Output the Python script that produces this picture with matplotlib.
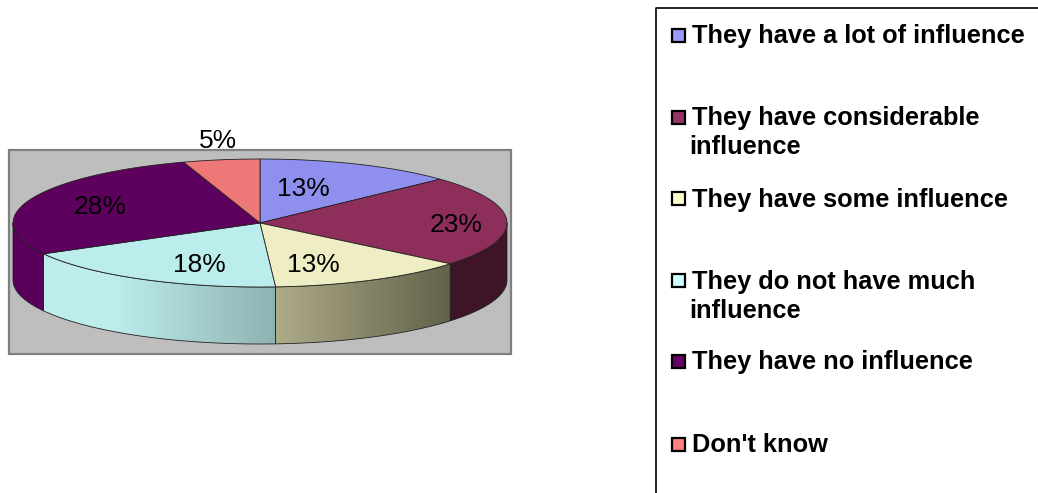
# influence pie chart, flat 3D look drawn by hand in pixel space

import numpy as np
import matplotlib
matplotlib.use("Agg")
import matplotlib.pyplot as plt
from matplotlib.colors import LinearSegmentedColormap
from matplotlib.patches import Polygon, Rectangle

# Data
categories = ["They have a lot of influence",
              "They have considerable\ninfluence",
              "They have some influence",
              "They do not have much\ninfluence",
              "They have no influence",
              "Don't know"]
values = [13, 23, 13, 18, 28, 5]

# Styles
top_colors = ["#8F8FEE", "#8E2E5A", "#EEEDC3", "#BBEDED", "#5E005E", "#EE7777"]
side_colors = ["#5F5FA0", "#3E1426", None, None, "#5A005A", "#A05050"]
side_gradients = [None, None, ("#AEAB88", "#62614A"), ("#BDEDED", "#8FB2B2"), None, None]
swatch_colors = ["#9999FF", "#993366", "#FFFFCC", "#CCFFFF", "#660066", "#FF8080"]
legend_y = [34, 116, 197, 279, 360, 443]
label_xy = [(303, 186), (456, 222), (313, 263), (199, 263), (100, 205), (218, 139)]

cx, cy, rx, ry, depth = 260, 223, 247, 64, 57

fig = plt.figure(figsize=(10.38, 4.93), dpi=100)
ax = fig.add_axes([0, 0, 1, 1])
ax.axis("off")

# plot area
ax.add_patch(Rectangle((9, 150), 502, 204, facecolor="#BEBEBE", edgecolor="#808080", linewidth=1.6, zorder=1))


def rim(a0, a1):
    # points on the top ellipse, angle clockwise from 12 o'clock
    t = np.radians(np.linspace(a0, a1, 80))
    return np.column_stack([cx + rx * np.sin(t), cy - ry * np.cos(t)])


edges = np.cumsum([0] + values) * 3.6

# side walls first
for i in range(len(values)):
    a0 = max(edges[i], 90)
    a1 = min(edges[i + 1], 270)
    if a1 <= a0:
        continue
    upper = rim(a0, a1)
    lower = upper[::-1] + [0, depth]
    pts = np.vstack([upper, lower])
    if side_gradients[i] is not None:
        x0, x1 = pts[:, 0].min(), pts[:, 0].max()
        c_left, c_right = side_gradients[i]
        if i == 3:
            cmap = LinearSegmentedColormap.from_list("side", [(0, c_left), (0.3, c_left), (1, c_right)])
        else:
            cmap = LinearSegmentedColormap.from_list("side", [c_left, c_right])
        im = ax.imshow(np.linspace(0, 1, 256).reshape(1, -1), cmap=cmap, aspect="auto",
                       extent=(x0, x1, cy + ry + depth, cy - ry), zorder=2)
        wall = Polygon(pts, closed=True, facecolor="none", edgecolor="#222222", linewidth=0.6, zorder=3)
        ax.add_patch(wall)
        im.set_clip_path(wall)
    else:
        ax.add_patch(Polygon(pts, closed=True, facecolor=side_colors[i], edgecolor="#222222", linewidth=0.6, zorder=3))

# top face
for i in range(len(values)):
    pts = np.vstack([[cx, cy], rim(edges[i], edges[i + 1])])
    ax.add_patch(Polygon(pts, closed=True, facecolor=top_colors[i], edgecolor="#222222", linewidth=0.6, zorder=4))

# percent labels
for v, (x, y) in zip(values, label_xy):
    ax.text(x, y, f"{v}%", ha="center", va="center_baseline", fontsize=19, family="Liberation Sans",
            color="black", zorder=5)

# legend box, runs off the right and bottom of the image
ax.plot([1038, 656, 656], [8, 8, 493], color="black", linewidth=1.2, zorder=1)
for cat, col, y in zip(categories, swatch_colors, legend_y):
    ax.add_patch(Rectangle((672, y - 5.5), 13, 13, facecolor=col, edgecolor="black", linewidth=1.6, zorder=3))
    lines = cat.split("\n")
    ax.text(692, y, lines[0], ha="left", va="center_baseline", fontsize=18.25, fontweight="bold",
            family="Liberation Sans", color="black")
    if len(lines) > 1:
        ax.text(689.5, y + 29, lines[1], ha="left", va="center_baseline", fontsize=18.25, fontweight="bold",
                family="Liberation Sans", color="black")

ax.set_xlim(0, 1038)
ax.set_ylim(493, 0)

fig.savefig("out.png", dpi=100)
